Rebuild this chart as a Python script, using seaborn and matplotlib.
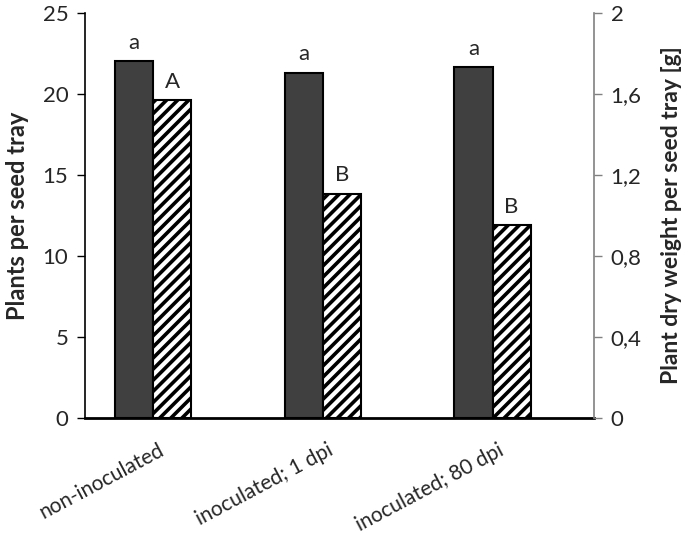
import matplotlib
matplotlib.use('Agg')
import matplotlib.pyplot as plt
import matplotlib.transforms as mtransforms
import seaborn as sns
from matplotlib.ticker import FuncFormatter

sns.set_style('white')
plt.rcParams['font.family'] = ['Lato', 'DejaVu Sans']
plt.rcParams['hatch.linewidth'] = 2.6
plt.rcParams['hatch.color'] = '#404040'

categories = ['non-inoculated', 'inoculated; 1 dpi', 'inoculated; 80 dpi']
plants = [22.0, 21.3, 21.65]          # plants per seed tray (left axis)
dry_weight = [1.57, 1.107, 0.95]      # plant dry weight per seed tray [g] (right axis)
plant_letters = ['a', 'a', 'a']
weight_letters = ['A', 'B', 'B']

fig = plt.figure(figsize=(6.85, 5.35), dpi=100)
ax = fig.add_axes([0.124, 0.219, 0.743, 0.757])
ax2 = ax.twinx()

bw = 0.225
sns.barplot(x=categories, y=plants, ax=ax, color='#404040', width=bw,
            edgecolor='black', linewidth=1.5, saturation=1)
sns.barplot(x=categories, y=dry_weight, ax=ax2, color='white', width=bw,
            edgecolor='black', linewidth=1.5, saturation=1, hatch='///')

for p in ax.patches:
    p.set_x(p.get_x() - 0.21)
for p in ax2.patches:
    p.set_x(p.get_x() + 0.015)

for p, t in zip(ax.patches, plant_letters):
    ax.annotate(t, (p.get_x() + p.get_width() / 2, p.get_height()),
                xytext=(0, 6), textcoords='offset points',
                ha='center', va='bottom', fontsize=16)
for p, t in zip(ax2.patches, weight_letters):
    ax2.annotate(t, (p.get_x() + p.get_width() / 2, p.get_height()),
                 xytext=(0, 6), textcoords='offset points',
                 ha='center', va='bottom', fontsize=16)

ax.set_xlim(-0.5, 2.5)
ax.set_ylim(0, 25)
ax2.set_ylim(0, 2)
ax.set_yticks([0, 5, 10, 15, 20, 25])
ax2.set_yticks([0, 0.4, 0.8, 1.2, 1.6, 2.0])
ax2.yaxis.set_major_formatter(FuncFormatter(lambda v, pos: f'{v:g}'.replace('.', ',')))

for a in (ax, ax2):
    a.spines['top'].set_visible(False)
    a.tick_params(axis='y', labelsize=16, length=6, width=1, direction='out', pad=6)
    a.set_xlabel('')
ax.spines['right'].set_visible(False)
ax.spines['left'].set_color('black')
ax.spines['left'].set_linewidth(1.2)
ax.spines['bottom'].set_color('black')
ax.spines['bottom'].set_linewidth(2)
ax2.spines['left'].set_visible(False)
ax2.spines['bottom'].set_visible(False)
ax2.spines['right'].set_color('#808080')
ax2.spines['right'].set_linewidth(1.2)
ax.tick_params(axis='y', left=True, color='black')
ax2.tick_params(axis='y', right=True, color='#808080')

ax.tick_params(axis='x', length=0, labelsize=15, pad=8)
ax.set_xticks(range(len(categories)))
ax.set_xticklabels(categories, rotation=28, ha='right', rotation_mode='anchor')
shift = mtransforms.ScaledTranslation(-12 / 100, -11 / 100, fig.dpi_scale_trans)
for lbl in ax.get_xticklabels():
    lbl.set_transform(lbl.get_transform() + shift)

ax.set_ylabel('Plants per seed tray', fontsize=17, fontweight='bold', labelpad=10)
ax2.set_ylabel('Plant dry weight per seed tray [g]', fontsize=16.5, fontweight='bold', labelpad=14)

fig.savefig('out.png', dpi=100)
